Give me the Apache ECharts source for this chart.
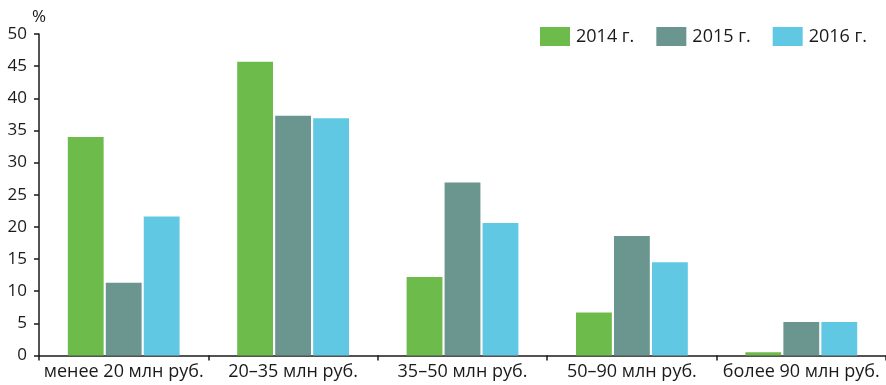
<!DOCTYPE html>
<html>
<head>
<meta charset="utf-8">
<script src="https://cdn.jsdelivr.net/npm/echarts@6/dist/echarts.min.js"></script>
<style>
  html, body { margin: 0; padding: 0; background: #fff; }
  #chart { width: 886px; height: 385px; }
</style>
</head>
<body>
<div id="chart"></div>
<script>
// Distribution by revenue band, %
const categories = ['менее 20 млн руб.', '20–35 млн руб.', '35–50 млн руб.', '50–90 млн руб.', 'более 90 млн руб.'];
const years = ['2014 г.', '2015 г.', '2016 г.'];
const values2014 = [34.0, 45.7, 12.2, 6.7, 0.5];
const values2015 = [11.3, 37.3, 26.9, 18.6, 5.2];
const values2016 = [21.6, 36.9, 20.6, 14.5, 5.2];
const yTicks = [0, 5, 10, 15, 20, 25, 30, 35, 40, 45, 50];

const colors = ['#6cbb4b', '#6a968f', '#60c8e3'];
const font = '"Open Sans", "Noto Sans", sans-serif';
const textColor = '#1a1a1a';

const chart = echarts.init(document.getElementById('chart'), null, { renderer: 'canvas' });

const seriesData = [values2014, values2015, values2016];

chart.setOption({
  animation: false,
  color: colors,
  textStyle: { fontFamily: font, color: textColor },
  grid: { left: 39, right: 0, top: 34, bottom: 29.5, containLabel: false },
  legend: {
    data: years,
    right: 14,
    top: 22,
    itemWidth: 30,
    itemHeight: 19,
    itemGap: 22,
    icon: 'rect',
    textStyle: { fontFamily: font, fontSize: 18, color: textColor, padding: [0, 0, 0, 1] }
  },
  xAxis: {
    type: 'category',
    data: categories,
    boundaryGap: true,
    axisLine: { lineStyle: { color: '#1a1a1a', width: 1.5 } },
    axisTick: { show: true, length: 5, inside: false, lineStyle: { color: '#1a1a1a', width: 1.5 } },
    axisLabel: { fontFamily: font, fontSize: 18, color: textColor, margin: 7, interval: 0 }
  },
  yAxis: {
    type: 'value',
    min: yTicks[0],
    max: yTicks[yTicks.length - 1],
    interval: 5,
    name: '%',
    nameLocation: 'end',
    nameGap: 6,
    nameTextStyle: { fontFamily: font, fontSize: 17, color: textColor, align: 'center' },
    splitLine: { show: false },
    axisLine: { show: true, lineStyle: { color: '#1a1a1a', width: 1.5 } },
    axisTick: { show: true, length: 5, lineStyle: { color: '#1a1a1a', width: 1.5 } },
    axisLabel: { fontFamily: font, fontSize: 17, color: textColor, margin: 12 }
  },
  series: years.map((name, i) => ({
    name: name,
    type: 'bar',
    data: seriesData[i],
    barGap: '6%',
    barCategoryGap: '34%',
    itemStyle: { color: colors[i] }
  }))
});
</script>
</body>
</html>
